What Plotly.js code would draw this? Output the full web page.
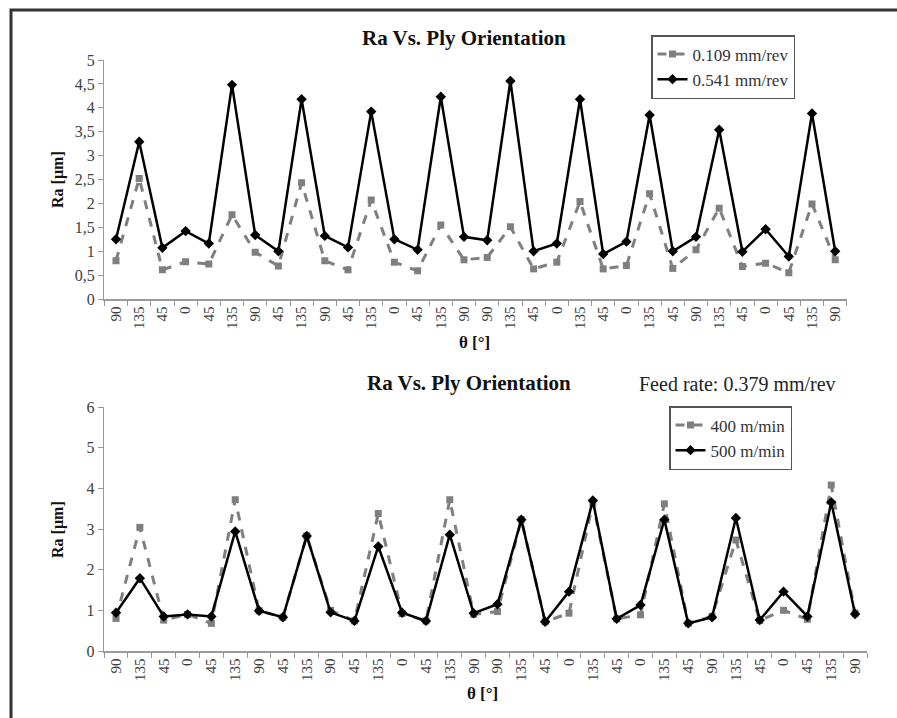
<!DOCTYPE html>
<html>
<head>
<meta charset="utf-8">
<script src="https://cdn.plot.ly/plotly-3.0.1.min.js"></script>
<style>html,body{margin:0;padding:0;background:#fff;}#chart{width:897px;height:718px;}</style>
</head>
<body>
<div id="chart"></div>
<script>
// Tick labels (ply orientation, degrees)
const angleLabels = ["90","135","45","0","45","135","90","45","135","90","45","135","0","45","135","90",
                     "90","135","45","0","135","45","0","135","45","90","135","45","0","45","135","90"];

// Top chart: Ra [µm] at two feed rates
const feed0109 = [0.80,2.52,0.61,0.78,0.73,1.76,0.98,0.69,2.43,0.80,0.61,2.07,0.77,0.59,1.55,0.82,
                  0.87,1.51,0.63,0.77,2.04,0.63,0.70,2.20,0.64,1.03,1.90,0.68,0.75,0.55,1.99,0.82];
const feed0541 = [1.25,3.29,1.07,1.42,1.16,4.48,1.34,1.00,4.18,1.32,1.08,3.92,1.25,1.03,4.23,1.30,
                  1.23,4.56,1.00,1.16,4.18,0.94,1.20,3.85,1.00,1.30,3.54,0.99,1.46,0.89,3.88,1.00];

// Bottom chart: Ra [µm] at two cutting speeds (feed 0.379 mm/rev)
const speed400 = [0.80,3.04,0.76,0.90,0.68,3.72,0.99,0.83,2.83,1.00,0.74,3.38,0.92,0.74,3.72,0.90,
                  0.97,3.23,0.72,0.93,3.64,0.79,0.89,3.62,0.68,0.85,2.73,0.75,1.00,0.78,4.08,0.93];
const speed500 = [0.94,1.79,0.85,0.90,0.85,2.94,0.99,0.83,2.83,0.95,0.74,2.57,0.94,0.74,2.86,0.93,
                  1.15,3.23,0.72,1.46,3.70,0.79,1.13,3.23,0.68,0.83,3.27,0.76,1.46,0.85,3.66,0.91];

const idx = angleLabels.map((_, i) => i);
const W = 897, H = 718;
const px = v => v / W;
const py = v => (H - v) / H;
const serif = "Liberation Serif";

const grayStyle = {mode:"lines+markers", line:{color:"#7f7f7f", width:3, dash:"dash"},
                   marker:{symbol:"square", size:7, color:"#7f7f7f"}};
const blackStyle = {mode:"lines+markers", line:{color:"#000", width:2.5},
                    marker:{symbol:"diamond", size:8, color:"#000"}};

const traces = [
  Object.assign({x:idx, y:feed0109, name:"0.109 mm/rev", xaxis:"x", yaxis:"y", legend:"legend"}, grayStyle),
  Object.assign({x:idx, y:feed0541, name:"0.541 mm/rev", xaxis:"x", yaxis:"y", legend:"legend"}, blackStyle),
  Object.assign({x:idx, y:speed400, name:"400 m/min", xaxis:"x2", yaxis:"y2", legend:"legend2"}, grayStyle),
  Object.assign({x:idx, y:speed500, name:"500 m/min", xaxis:"x2", yaxis:"y2", legend:"legend2"}, blackStyle)
];

function xAxis(domain, anchor) {
  return {domain:domain, anchor:anchor, range:[-0.5, idx.length-0.5], tickmode:"array",
          tickvals:idx, ticktext:angleLabels, tickangle:-90, ticks:"",
          minor:{tick0:-0.5, dtick:1, ticks:"outside", ticklen:5, tickcolor:"#999", showgrid:false},
          showline:true, linecolor:"#999", linewidth:1.5, showgrid:false, zeroline:false,
          tickfont:{family:serif, size:15, color:"#404040"}};
}
function yAxis(domain, anchor, range, dtick) {
  return {domain:domain, anchor:anchor, range:range, dtick:dtick, ticks:"outside", ticklen:5,
          tickcolor:"#999", showline:true, linecolor:"#999", linewidth:1.5, showgrid:false,
          zeroline:false, tickfont:{family:serif, size:16, color:"#404040"}};
}

function note(text, x, y, size, color, angle) {
  return {text:text, xref:"paper", yref:"paper", x:px(x), y:py(y), xanchor:"center", yanchor:"middle",
          showarrow:false, textangle:angle || 0, font:{family:serif, size:size, color:color}};
}

const layout = {
  width:W, height:H, margin:{l:0, r:0, t:0, b:0}, paper_bgcolor:"#fff", plot_bgcolor:"#fff",
  separators:", ",
  xaxis: xAxis([px(104.4), px(846.8)], "y"),
  yaxis: yAxis([py(299), py(60)], "x", [0,5], 0.5),
  xaxis2: xAxis([px(104.1), px(867)], "y2"),
  yaxis2: yAxis([py(651), py(407)], "x2", [0,6], 1),
  legend:{x:px(651), y:py(35), xanchor:"left", yanchor:"top", bgcolor:"#fff", bordercolor:"#555",
          borderwidth:1.5, font:{family:serif, size:17, color:"#333"}, tracegroupgap:0},
  legend2:{x:px(669), y:py(406), xanchor:"left", yanchor:"top", bgcolor:"#fff", bordercolor:"#555",
           borderwidth:1.5, font:{family:serif, size:17, color:"#333"}, tracegroupgap:0},
  annotations:[
    note("<b>Ra Vs. Ply Orientation</b>", 464, 38, 21, "#111"),
    note("<b>Ra Vs. Ply Orientation</b>", 469, 383, 21, "#111"),
    note("Feed rate: 0.379 mm/rev", 737, 384, 20, "#222"),
    note("<b>Ra [µm]</b>", 58, 180, 16, "#111", -90),
    note("<b>Ra [µm]</b>", 58, 530, 16, "#111", -90),
    note("<b>θ [°]</b>", 474, 342, 17, "#111"),
    note("<b>θ [°]</b>", 482, 693, 17, "#111")
  ],
  shapes:[
    {type:"rect", xref:"paper", yref:"paper", x0:px(11), x1:px(905), y0:py(730), y1:py(10),
     line:{color:"#333", width:3}, fillcolor:"rgba(0,0,0,0)"}
  ],
  showlegend:true
};

Plotly.newPlot("chart", traces, layout, {displayModeBar:false, staticPlot:true});
</script>
</body>
</html>
